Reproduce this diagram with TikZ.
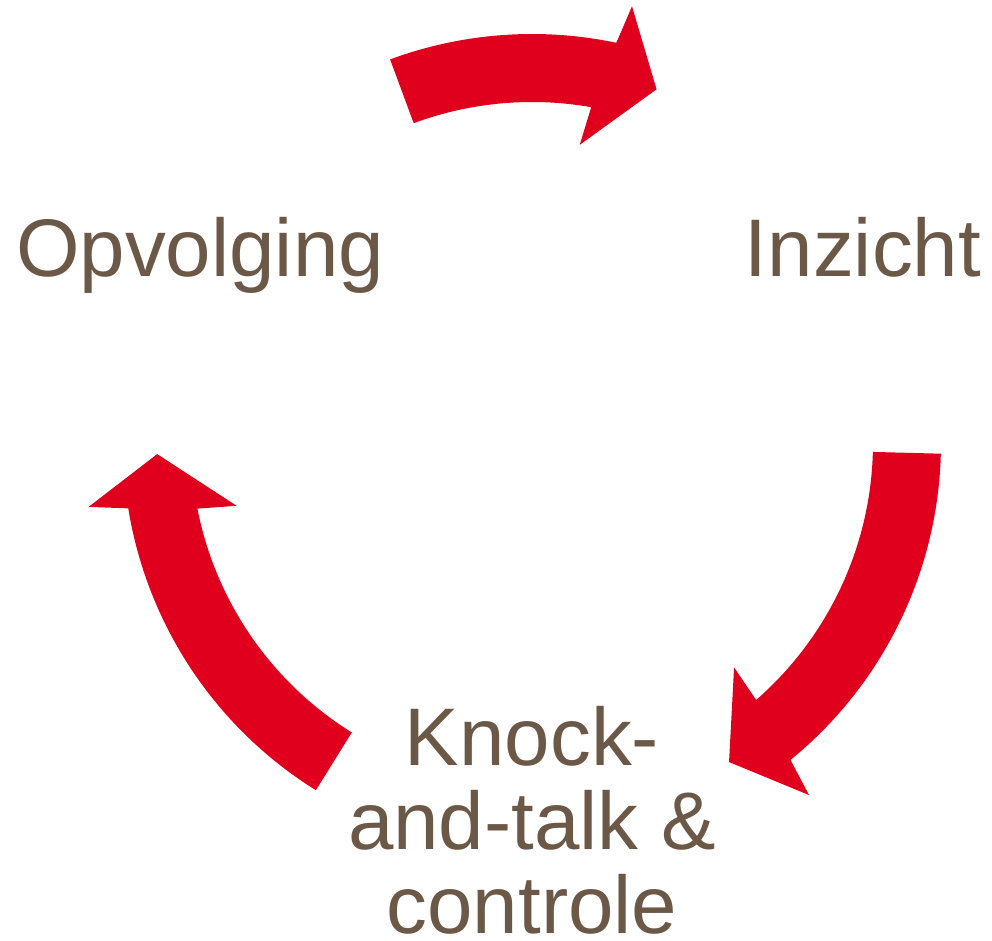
\documentclass[tikz,border=0pt]{standalone}
\usepackage{fontspec}
\setmainfont{Liberation Sans}
\definecolor{cyclered}{RGB}{224,0,30}
\definecolor{cyclebrown}{RGB}{107,88,71}

\begin{document}
\begin{tikzpicture}[
      x=0.02cm, y=0.02cm,
      stagetext/.style={
          text=cyclebrown,
          font=\fontsize{46.5pt}{47.8pt}\selectfont,
          inner sep=0pt,
          align=center
        },
      cyclearrow/.style={
          fill=cyclered,
          draw=none
        }
    ]
    \useasboundingbox (0,0) rectangle (992,941);
    \coordinate (c) at (532,498);

    % Explicit positions
    \node[stagetext, anchor=base] at (200,664) (opvolging) {Opvolging};
    \node[stagetext, anchor=base] at (863,664) (inzicht)   {Inzicht};
    \node[stagetext, anchor=north] at (532,235) (knock)    {Knock-\\and-talk \&\\controle};

    % Arrows round the centre (c)
    \fill[cyclearrow, shift={(c)}] (110.3:409) arc[start angle=110.3, end angle=78.1, radius=409]
    -- (77.1:448) -- (70.6:375) -- (80.9:302) -- (80.0:341)
    arc[start angle=80.0, end angle=110.3, radius=341] -- cycle;
    \fill[cyclearrow, shift={(c)}] (-1.5:409) arc[start angle=-1.5, end angle=-50.8, radius=409]
    -- (-51.8:448) -- (-58.3:375) -- (-48.0:302) -- (-48.9:341)
    arc[start angle=-48.9, end angle=-1.5, radius=341] -- cycle;
    \fill[cyclearrow, shift={(c)}] (238.1:409) arc[start angle=238.1, end angle=189.2, radius=409]
    -- (188.2:448) -- (181.7:375) -- (192.0:302) -- (191.1:341)
    arc[start angle=191.1, end angle=238.1, radius=341] -- cycle;
  \end{tikzpicture}
\end{document}
